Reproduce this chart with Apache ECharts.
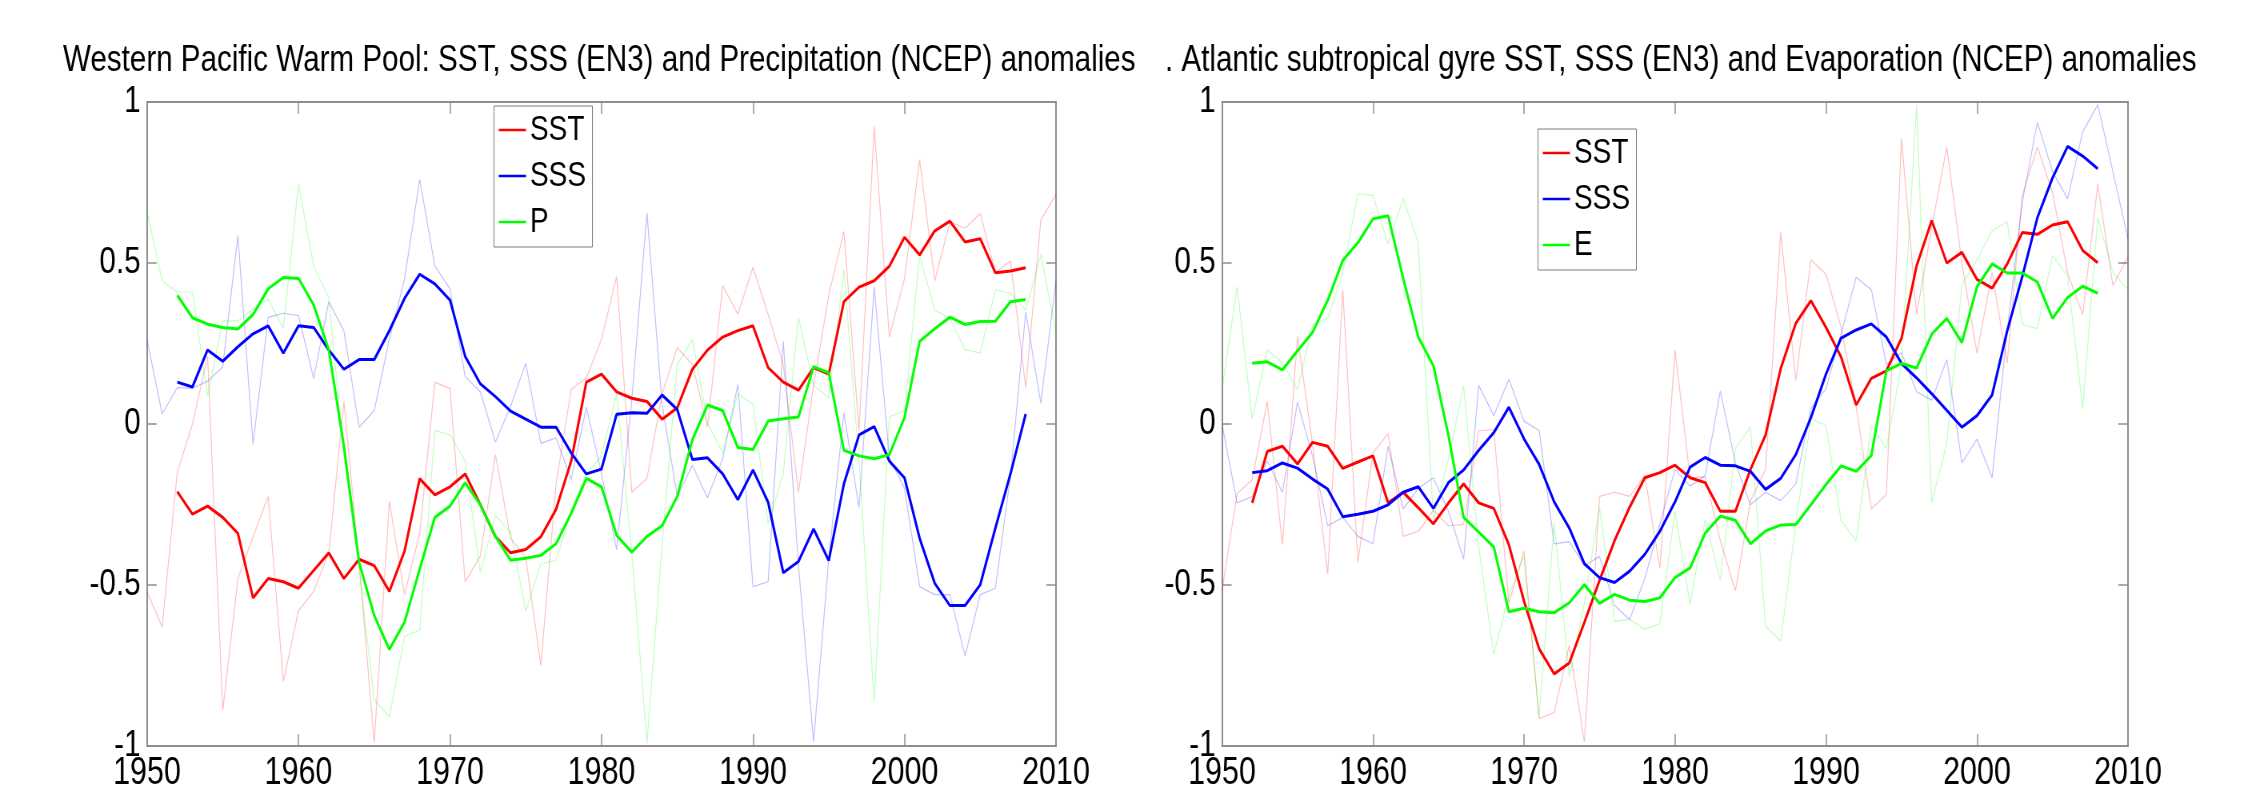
<!DOCTYPE html>
<html>
<head>
<meta charset="utf-8">
<script src="https://cdn.jsdelivr.net/npm/echarts@6/dist/echarts.min.js"></script>
<style>
  html, body { margin: 0; background: #fff; overflow: hidden; }
  #wrap { width: 2251px; height: 801px; overflow: hidden; }
  /* the original figure is horizontally squeezed; draw wider and squeeze the same way */
  #chart { width: 2814px; height: 801px; transform: scaleX(0.8); transform-origin: 0 0; }
</style>
</head>
<body>
<div id="wrap"><div id="chart"></div></div>
<script>
// years of the annual values and of the running means
const annualYears = [1950, 1951, 1952, 1953, 1954, 1955, 1956, 1957, 1958, 1959,
  1960, 1961, 1962, 1963, 1964, 1965, 1966, 1967, 1968, 1969,
  1970, 1971, 1972, 1973, 1974, 1975, 1976, 1977, 1978, 1979,
  1980, 1981, 1982, 1983, 1984, 1985, 1986, 1987, 1988, 1989,
  1990, 1991, 1992, 1993, 1994, 1995, 1996, 1997, 1998, 1999,
  2000, 2001, 2002, 2003, 2004, 2005, 2006, 2007, 2008, 2009, 2010];
const smoothYears = annualYears.slice(2, 59); // 1952..2008

// Western Pacific Warm Pool - running means
const wpSst = [-0.21, -0.28, -0.255, -0.29, -0.34, -0.54, -0.48, -0.49, -0.51, -0.455,
  -0.40, -0.48, -0.42, -0.44, -0.52, -0.395, -0.17, -0.22, -0.195, -0.155,
  -0.25, -0.35, -0.40, -0.39, -0.35, -0.265, -0.115, 0.13, 0.155, 0.10,
  0.08, 0.07, 0.015, 0.05, 0.17, 0.23, 0.27, 0.29, 0.305, 0.175,
  0.13, 0.105, 0.175, 0.155, 0.38, 0.425, 0.445, 0.49, 0.58, 0.525,
  0.60, 0.63, 0.565, 0.575, 0.47, 0.475, 0.485];
const wpSss = [0.13, 0.115, 0.23, 0.195, 0.24, 0.28, 0.305, 0.22, 0.305, 0.30,
  0.23, 0.17, 0.20, 0.20, 0.29, 0.39, 0.465, 0.435, 0.385, 0.21,
  0.125, 0.085, 0.04, 0.015, -0.01, -0.01, -0.09, -0.155, -0.14, 0.03,
  0.035, 0.033, 0.09, 0.045, -0.11, -0.105, -0.155, -0.235, -0.143, -0.243,
  -0.462, -0.427, -0.326, -0.424, -0.186, -0.034, -0.008, -0.115, -0.167, -0.355,
  -0.495, -0.564, -0.564, -0.499, -0.323, -0.154, 0.031];
const wpP = [0.40, 0.33, 0.31, 0.30, 0.295, 0.34, 0.42, 0.455, 0.452, 0.37,
  0.23, -0.07, -0.43, -0.595, -0.70, -0.615, -0.45, -0.29, -0.255, -0.182,
  -0.251, -0.349, -0.423, -0.417, -0.408, -0.372, -0.277, -0.169, -0.195, -0.346,
  -0.398, -0.349, -0.316, -0.225, -0.049, 0.059, 0.042, -0.073, -0.079, 0.009,
  0.016, 0.022, 0.178, 0.159, -0.082, -0.099, -0.108, -0.095, 0.020, 0.257,
  0.296, 0.332, 0.309, 0.318, 0.319, 0.380, 0.387];

// Western Pacific Warm Pool - annual values (faint)
const wpSstAnnual = [-0.52, -0.63, -0.15, 0.0, 0.21, -0.89, -0.48, -0.35, -0.225, -0.80,
  -0.58, -0.52, -0.40, 0.07, -0.43, -0.99, -0.24, -0.53, -0.34, 0.13,
  0.11, -0.49, -0.41, -0.095, -0.355, -0.414, -0.75, -0.186, 0.107, 0.143,
  0.263, 0.458, -0.212, -0.169, 0.094, 0.237, 0.185, -0.01, 0.43, 0.341,
  0.487, 0.34, 0.185, -0.212, 0.12, 0.40, 0.598, -0.023, 0.924, 0.27,
  0.452, 0.82, 0.445, 0.628, 0.608, 0.654, 0.471, 0.506, 0.113, 0.634, 0.712];
const wpSssAnnual = [0.263, 0.031, 0.113, 0.111, 0.133, 0.178, 0.585, -0.063, 0.331, 0.344,
  0.337, 0.142, 0.380, 0.289, -0.010, 0.042, 0.263, 0.45, 0.760, 0.491,
  0.42, 0.148, 0.10, -0.056, 0.055, 0.188, -0.06, -0.043, -0.173, 0.052,
  -0.154, -0.39, 0.074, 0.656, 0.061, -0.225, -0.128, -0.229, -0.108, 0.122,
  -0.505, -0.49, 0.257, -0.44, -0.987, -0.42, 0.035, -0.26, 0.426, -0.104,
  -0.2, -0.505, -0.53, -0.53, -0.72, -0.53, -0.51, -0.16, 0.348, 0.065, 0.445];
const wpPAnnual = [0.66, 0.445, 0.41, 0.41, 0.087, 0.32, 0.32, 0.357, 0.387, 0.296,
  0.745, 0.49, 0.393, -0.10, -0.45, -0.857, -0.909, -0.66, -0.64, -0.02,
  -0.034, -0.115, -0.46, -0.284, -0.336, -0.581, -0.434, -0.424, -0.27, -0.154,
  -0.10, 0.094, -0.40, -0.99, -0.375, 0.185, 0.263, 0.003, -0.089, 0.094,
  0.061, -0.31, -0.154, 0.331, 0.12, 0.081, 0.478, -0.115, -0.863, 0.022,
  0.042, 0.523, 0.354, 0.328, 0.23, 0.221, 0.417, 0.406, 0.354, 0.526, 0.283];

// N. Atlantic subtropical gyre - running means
const naSst = [-0.245, -0.085, -0.069, -0.124, -0.057, -0.069, -0.138, -0.118, -0.099, -0.245,
  -0.212, -0.26, -0.31, -0.245, -0.186, -0.245, -0.262, -0.375, -0.55, -0.698,
  -0.776, -0.742, -0.616, -0.486, -0.362, -0.258, -0.167, -0.151, -0.128, -0.167,
  -0.182, -0.271, -0.271, -0.141, -0.034, 0.172, 0.313, 0.383, 0.30, 0.208,
  0.059, 0.142, 0.165, 0.266, 0.491, 0.632, 0.50, 0.533, 0.449, 0.422,
  0.497, 0.595, 0.589, 0.618, 0.628, 0.539, 0.501];
const naSss = [-0.151, -0.145, -0.121, -0.137, -0.171, -0.202, -0.288, -0.280, -0.271, -0.251,
  -0.212, -0.195, -0.262, -0.182, -0.143, -0.082, -0.027, 0.052, -0.046, -0.125,
  -0.242, -0.323, -0.434, -0.477, -0.492, -0.457, -0.405, -0.333, -0.242, -0.134,
  -0.104, -0.128, -0.130, -0.147, -0.203, -0.169, -0.095, 0.02, 0.155, 0.267,
  0.292, 0.311, 0.270, 0.188, 0.143, 0.094, 0.042, -0.010, 0.026, 0.090,
  0.289, 0.458, 0.641, 0.764, 0.862, 0.832, 0.793];
const naE = [0.189, 0.193, 0.168, 0.227, 0.285, 0.384, 0.508, 0.563, 0.637, 0.647,
  0.452, 0.270, 0.181, -0.036, -0.290, -0.336, -0.382, -0.583, -0.572, -0.583,
  -0.586, -0.555, -0.499, -0.557, -0.529, -0.547, -0.551, -0.540, -0.477, -0.447,
  -0.339, -0.286, -0.299, -0.372, -0.332, -0.314, -0.312, -0.251, -0.188, -0.130,
  -0.147, -0.098, 0.165, 0.188, 0.174, 0.279, 0.328, 0.253, 0.426, 0.497,
  0.469, 0.469, 0.441, 0.328, 0.393, 0.428, 0.406];

// N. Atlantic subtropical gyre - annual values (faint)
const naSstAnnual = [-0.518, -0.216, -0.173, 0.07, -0.375, 0.273, -0.063, -0.466, 0.417, -0.43,
  -0.089, -0.03, -0.349, -0.333, -0.268, -0.316, -0.312, -0.021, -0.017, -0.557,
  -0.395, -0.915, -0.896, -0.688, -0.987, -0.225, -0.212, -0.225, -0.16, -0.447,
  0.23, -0.167, -0.164, -0.362, -0.518, -0.238, -0.141, 0.595, 0.135, 0.51,
  0.465, 0.30, 0.055, -0.264, -0.219, 0.888, 0.34, 0.61, 0.86, 0.50,
  0.22, 0.47, 0.19, 0.71, 0.86, 0.72, 0.47, 0.34, 0.745, 0.43, 0.52];
const naSssAnnual = [0.0, -0.245, -0.225, -0.115, -0.212, 0.068, -0.10, -0.316, -0.29, -0.349,
  -0.372, -0.069, -0.264, -0.2, -0.167, -0.271, -0.42, 0.12, 0.026, 0.139,
  0.009, -0.02, -0.372, -0.365, -0.44, -0.411, -0.564, -0.607, -0.48, -0.31,
  -0.141, -0.193, -0.16, 0.103, -0.121, -0.251, -0.212, -0.238, -0.186, 0.048,
  0.11, 0.28, 0.456, 0.417, 0.185, 0.221, 0.10, 0.074, 0.2, -0.121,
  -0.047, -0.167, 0.29, 0.69, 0.9375, 0.784, 0.70, 0.907, 0.992, 0.784, 0.575];
const naEAnnual = [0.107, 0.426, 0.016, 0.23, 0.191, 0.107, 0.309, 0.328, 0.47, 0.715,
  0.71, 0.56, 0.70, 0.563, -0.297, -0.108, 0.12, -0.38, -0.716, -0.531,
  -0.41, -0.909, -0.307, -0.785, -0.557, -0.258, -0.613, -0.607, -0.638, -0.62,
  -0.271, -0.56, -0.297, -0.486, -0.076, -0.01, -0.629, -0.674, -0.31, 0.016,
  -0.004, -0.3, -0.362, -0.004, -0.076, 0.185, 0.99, -0.245, -0.06, 0.432,
  0.51, 0.6, 0.628, 0.309, 0.296, 0.523, 0.461, 0.048, 0.64, 0.471, 0.417];

const titles = [
  'Western Pacific Warm Pool: SST, SSS (EN3) and Precipitation (NCEP) anomalies',
  '. Atlantic subtropical gyre SST, SSS (EN3) and Evaporation (NCEP) anomalies'
];
const legendNames = [['SST', 'SSS', 'P'], ['SST', 'SSS', 'E']];

const SX = 0.8; // horizontal squeeze applied by CSS
const px = (x) => x / SX; // page x -> chart x

const FONT = "'Liberation Sans', Arial, sans-serif";
const RED = '#ff0000', BLUE = '#0000ff', GREEN = '#00ff00';
const FRAME = '#8e8e8e';

const grids = [
  { left: px(147), top: 102, width: px(909), height: 644 },
  { left: px(1222), top: 102, width: px(906), height: 644 }
];

const pairs = (years, vals) => vals.map((v, i) => [years[i], v]);

function xAxes(g) {
  const base = {
    type: 'value', gridIndex: g, min: 1950, max: 2010, interval: 10,
    splitLine: { show: false },
    axisLine: { onZero: false, lineStyle: { color: FRAME, width: 2 } },
    axisTick: { inside: true, length: 12, lineStyle: { color: FRAME, width: 1.5 } }
  };
  return [
    { ...base, position: 'bottom',
      axisLabel: { color: '#000', fontFamily: FONT, fontSize: 38, margin: 9,
        formatter: (v) => String(v) } },
    { ...base, position: 'top', axisLabel: { show: false } }
  ];
}

function yAxes(g) {
  const base = {
    type: 'value', gridIndex: g, min: -1, max: 1, interval: 0.5,
    splitLine: { show: false },
    axisLine: { show: true, onZero: false, lineStyle: { color: FRAME, width: 2 } },
    axisTick: { show: true, inside: true, length: 12, lineStyle: { color: FRAME, width: 1.5 } }
  };
  return [
    { ...base, position: 'left',
      axisLabel: { color: '#000', fontFamily: FONT, fontSize: 37, margin: 8 } },
    { ...base, position: 'right', axisLabel: { show: false } }
  ];
}

function faint(g, vals, color) {
  return {
    type: 'line', name: 'annual', xAxisIndex: g * 2, yAxisIndex: g * 2,
    data: pairs(annualYears, vals), symbol: 'none', silent: true, z: 1,
    lineStyle: { color, width: 1.2, opacity: 0.25 }
  };
}

function thick(g, name, vals, color) {
  return {
    type: 'line', name, xAxisIndex: g * 2, yAxisIndex: g * 2,
    data: pairs(smoothYears, vals), symbol: 'none', z: 3,
    itemStyle: { color }, lineStyle: { color, width: 3 }
  };
}

function legend(g, left, top) {
  return {
    data: legendNames[g], orient: 'vertical', left: px(left), top,
    icon: 'rect', itemWidth: 34, itemHeight: 2.5, itemGap: 10,
    padding: [6, 8, 7, 6],
    backgroundColor: '#fff', borderColor: '#7a7a7a', borderWidth: 1,
    textStyle: { fontFamily: FONT, fontSize: 35, lineHeight: 36, color: '#000' },
    selectedMode: false
  };
}

const titleStyle = { fontFamily: FONT, fontSize: 37, fontWeight: 'normal', color: '#000' };

const chart = echarts.init(document.getElementById('chart'), null, { renderer: 'canvas' });
chart.setOption({
  backgroundColor: '#fff',
  animation: false,
  title: [
    { text: titles[0], left: px(63), top: 42, padding: 0, textStyle: titleStyle },
    { text: titles[1], left: px(1165), top: 42, padding: 0, textStyle: titleStyle }
  ],
  grid: grids,
  xAxis: [...xAxes(0), ...xAxes(1)],
  yAxis: [...yAxes(0), ...yAxes(1)],
  legend: [legend(0, 494, 106), legend(1, 1538, 129)],
  series: [
    faint(0, wpSstAnnual, RED), faint(0, wpSssAnnual, BLUE), faint(0, wpPAnnual, GREEN),
    thick(0, 'SST', wpSst, RED), thick(0, 'SSS', wpSss, BLUE), thick(0, 'P', wpP, GREEN),
    faint(1, naSstAnnual, RED), faint(1, naSssAnnual, BLUE), faint(1, naEAnnual, GREEN),
    thick(1, 'SST', naSst, RED), thick(1, 'SSS', naSss, BLUE), thick(1, 'E', naE, GREEN)
  ]
});
</script>
</body>
</html>
